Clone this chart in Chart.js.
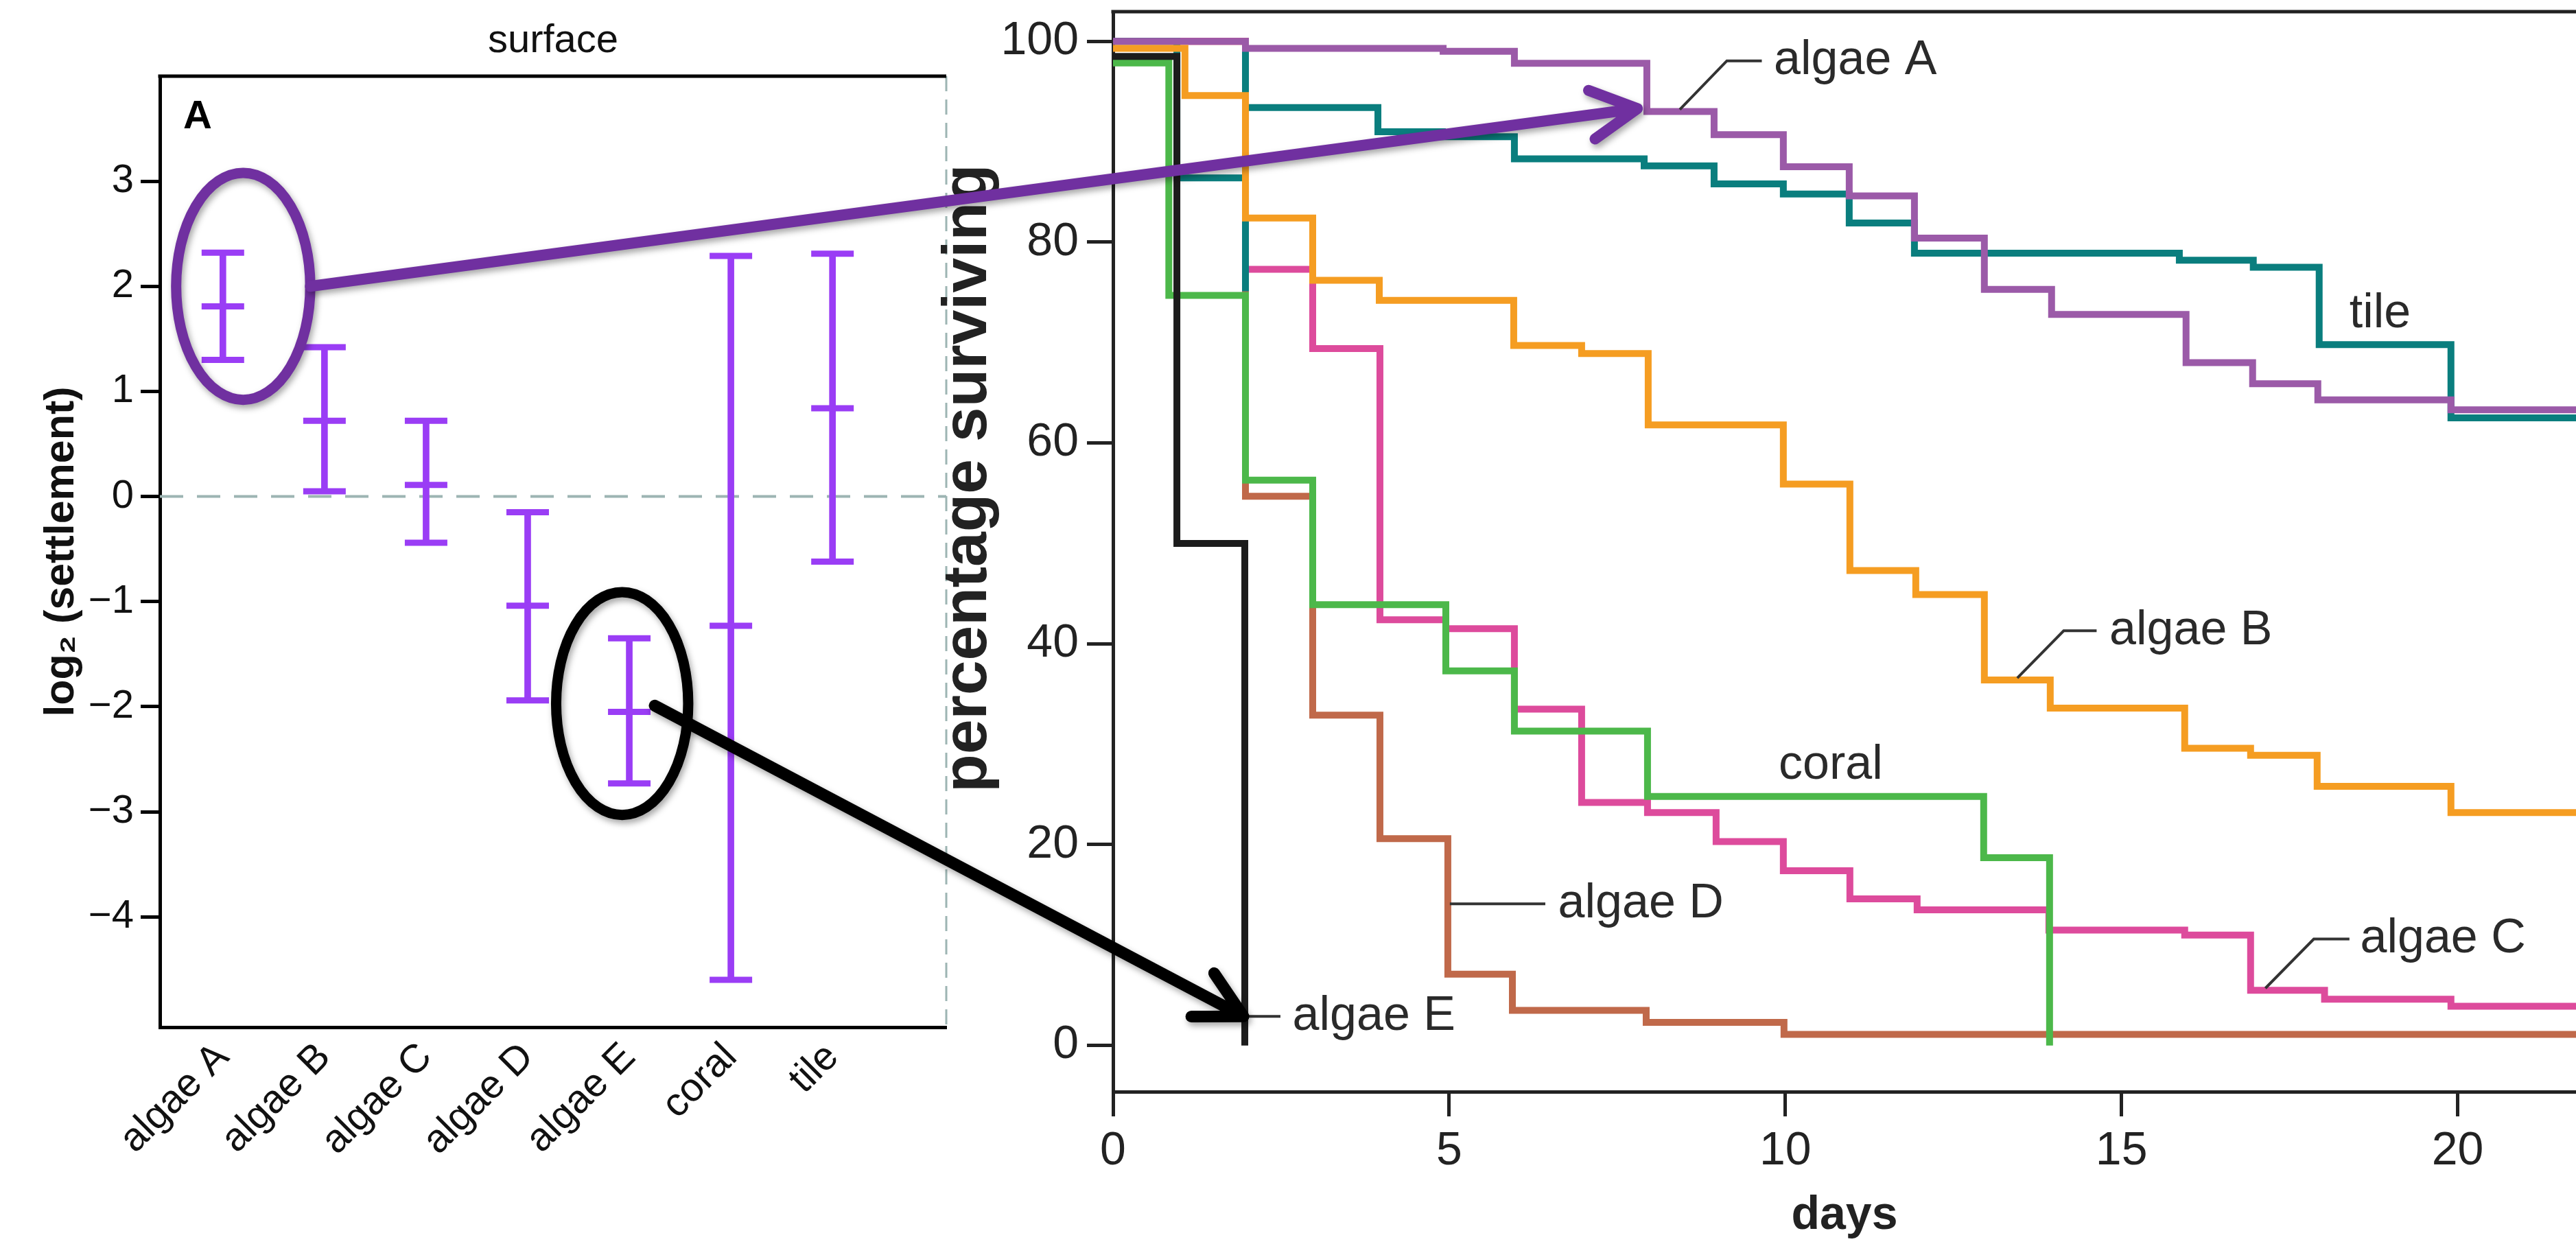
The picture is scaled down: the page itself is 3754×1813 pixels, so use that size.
<!DOCTYPE html>
<html>
<head>
<meta charset="utf-8">
<title>settlement vs survival</title>
<script src="https://cdn.jsdelivr.net/npm/chart.js@4.4.1/dist/chart.umd.min.js"></script>
<style>
    html, body { margin: 0; padding: 0; background: #fff; }
    #wrap { position: relative; width: 3754px; height: 1813px; overflow: hidden; }
    #leftChart  { position: absolute; left: 0; top: 0; }
    #rightChart { position: absolute; left: 1300px; top: 0; }
    #overlay    { position: absolute; left: 0; top: 0; pointer-events: none; }
</style>
</head>
<body>
<div id="wrap">
    <canvas id="leftChart" width="1419" height="1813"></canvas>
    <canvas id="rightChart" width="2454" height="1813"></canvas>
    <canvas id="overlay" width="3754" height="1813"></canvas>
</div>
<script>
// ── Panel A: log2 settlement, mean + interval per surface ─────────────────────
const CATEGORIES = ['algae A', 'algae B', 'algae C', 'algae D', 'algae E', 'coral', 'tile'];
const SETTLE_MEAN  = [1.81, 0.72, 0.11, -1.04, -2.05, -1.23, 0.84];
const SETTLE_LOWER = [1.30, 0.05, -0.44, -1.94, -2.73, -4.60, -0.62];
const SETTLE_UPPER = [2.32, 1.42, 0.72, -0.15, -1.35, 2.29, 2.31];
const SETTLE_TICKS = [-4, -3, -2, -1, 0, 1, 2, 3];

// ── Survival curves (day of step, % surviving after the step) ─────────────────
const DAYS_E  = [0, 0.95, 1.96];
const PCT_E   = [98.5, 50, 0];
const DAYS_CORAL = [0, 0.83, 1.97, 2.97, 4.95, 5.97, 7.95, 12.95, 13.93];
const PCT_CORAL  = [97.85, 74.7, 56.3, 43.9, 37.3, 31.3, 24.8, 18.7, 0];
const DAYS_B  = [0, 1.07, 1.97, 2.97, 3.96, 5.96, 6.97, 7.96, 9.97, 10.96, 11.94, 12.96, 13.94, 15.94, 16.92, 17.91, 19.9, 22];
const PCT_B   = [99.3, 94.6, 82.4, 76.2, 74.2, 69.7, 68.9, 61.8, 55.9, 47.3, 44.9, 36.4, 33.6, 29.6, 28.9, 25.8, 23.2, 23.2];
const DAYS_A  = [0, 1.97, 4.91, 5.97, 7.94, 8.94, 9.97, 10.95, 11.92, 12.96, 13.96, 15.96, 16.95, 17.92, 19.9, 22];
const PCT_A   = [100, 99.3, 99.0, 97.8, 93.0, 90.7, 87.5, 84.6, 80.4, 75.3, 72.8, 68.0, 65.9, 64.3, 63.3, 63.3];
const DAYS_TILE = [0, 0.95, 1.97, 1.97, 1.97, 3.94, 4.9, 5.97, 7.9, 8.94, 9.97, 10.95, 11.92, 15.86, 16.96, 17.94, 19.9, 22];
const PCT_TILE  = [100, 86.4, 75.1, 99.0, 93.4, 91.0, 90.5, 88.3, 87.6, 85.8, 84.8, 81.9, 78.9, 78.2, 77.5, 69.8, 62.5, 62.5];
const DAYS_C  = [0, 1.97, 2.97, 3.97, 4.95, 5.97, 6.97, 7.95, 8.97, 9.97, 10.96, 11.96, 13.92, 15.94, 16.92, 18.02, 19.9, 22];
const PCT_C   = [100, 77.3, 69.4, 42.4, 41.5, 33.5, 24.2, 23.2, 20.3, 17.4, 14.6, 13.5, 11.5, 11.0, 5.5, 4.6, 3.9, 3.9];
const DAYS_D  = [0, 1.97, 2.97, 3.97, 4.98, 5.94, 7.93, 9.98, 22];
const PCT_D   = [100, 54.7, 32.9, 20.6, 7.1, 3.5, 2.3, 1.1, 1.1];
const DAY_TICKS = [0, 5, 10, 15, 20];
const PCT_TICKS = [0, 20, 40, 60, 80, 100];

const FONT = "'Liberation Sans', Arial, Helvetica, sans-serif";
const BAR_PURPLE = '#9a3df5';
const NOTE_PURPLE = '#7030a0';
const DASH_GREY = '#9db5b3';
const LEFT_OFFSET = 0, RIGHT_OFFSET = 1300;

Chart.defaults.font.family = FONT;
Chart.defaults.color = '#111';

// Kaplan-Meier style: hold value until next step day.
function steps(days, pct) {
    return days.map((d, i) => ({ x: d, y: pct[i] }));
}

// ── Panel A decorations: title, dashed zero line, dashed right edge, top border, "A"
const leftDecor = {
    id: 'leftDecor',
    beforeDatasetsDraw(chart) {
        const { ctx, chartArea: a, scales: { y } } = chart;
        const y0 = y.getPixelForValue(0);
        ctx.save();
        ctx.strokeStyle = DASH_GREY;
        ctx.lineWidth = 4;
        ctx.setLineDash([34, 20]);
        ctx.beginPath(); ctx.moveTo(a.left, y0); ctx.lineTo(a.right, y0); ctx.stroke();
        ctx.setLineDash([22, 12]);
        ctx.lineWidth = 3;
        ctx.beginPath(); ctx.moveTo(a.right, a.top); ctx.lineTo(a.right, a.bottom); ctx.stroke();
        ctx.restore();
    },
    afterDraw(chart) {
        const { ctx, chartArea: a } = chart;
        ctx.save();
        ctx.strokeStyle = '#000';
        ctx.lineWidth = 5;
        ctx.beginPath(); ctx.moveTo(a.left - 2.5, a.top); ctx.lineTo(a.right, a.top); ctx.stroke();
        ctx.fillStyle = '#000';
        ctx.textAlign = 'center';
        ctx.textBaseline = 'middle';
        ctx.font = `bold 58px ${FONT}`;
        ctx.fillText('A', a.left + 55, a.top + 60);
        ctx.fillStyle = '#111';
        ctx.font = `58px ${FONT}`;
        ctx.fillText('surface', (a.left + a.right) / 2, 60);
        ctx.restore();
    },
};

const leftChart = new Chart(document.getElementById('leftChart'), {
    type: 'bar',
    data: {
        datasets: [
            {
                type: 'scatter', data: CATEGORIES.map((c, i) => ({ x: i, y: SETTLE_UPPER[i] })),
                pointStyle: 'line', pointRadius: 31, pointBorderWidth: 9, borderColor: BAR_PURPLE,
            },
            {
                type: 'scatter', data: CATEGORIES.map((c, i) => ({ x: i, y: SETTLE_LOWER[i] })),
                pointStyle: 'line', pointRadius: 31, pointBorderWidth: 9, borderColor: BAR_PURPLE,
            },
            {
                type: 'scatter', data: CATEGORIES.map((c, i) => ({ x: i, y: SETTLE_MEAN[i] })),
                pointStyle: 'line', pointRadius: 31, pointBorderWidth: 9, borderColor: BAR_PURPLE,
            },
            {
                type: 'bar', data: CATEGORIES.map((c, i) => ({ x: i, y: [SETTLE_LOWER[i], SETTLE_UPPER[i]] })),
                backgroundColor: BAR_PURPLE, borderWidth: 0, barThickness: 9,
            },
        ],
    },
    options: {
        responsive: false,
        animation: false,
        events: [],
        layout: { padding: { left: 0, right: 0, top: 111, bottom: 0 } },
        plugins: {
            legend: { display: false },
            tooltip: { enabled: false },
            title: { display: false },
        },
        scales: {
            x: {
                type: 'linear', min: -0.62, max: 7.12, offset: false,
                afterBuildTicks: (s) => { s.ticks = CATEGORIES.map((c, i) => ({ value: i })); },
                afterFit: (s) => { s.height = 316; s.paddingLeft = 0; s.paddingRight = 0; },
                grid: { display: true, drawOnChartArea: false, drawTicks: false, color: 'rgba(0,0,0,0)', offset: false },
                border: { display: true, color: '#000', width: 5 },
                ticks: {
                    autoSkip: false, minRotation: 45, maxRotation: 45, padding: 10, color: '#111',
                    font: { size: 58 },
                    callback: (v) => CATEGORIES[v] ?? '',
                },
            },
            y: {
                min: -5.05, max: 4.0,
                afterBuildTicks: (s) => { s.ticks = SETTLE_TICKS.map(v => ({ value: v })); },
                afterFit: (s) => { s.width = 233; s.paddingTop = 0; s.paddingBottom = 0; },
                grid: { display: true, drawOnChartArea: false, drawTicks: true, tickLength: 28, tickWidth: 5, tickColor: '#000' },
                border: { display: true, color: '#000', width: 5 },
                ticks: {
                    padding: 10, color: '#111', font: { size: 58 },
                    callback: (v) => String(v).replace('-', '\u2212'),
                },
                title: {
                    display: true, text: 'log\u2082 (settlement)', color: '#111',
                    font: { size: 61, weight: 'bold' }, padding: { top: 54, bottom: 0 },
                },
            },
        },
    },
    plugins: [leftDecor],
});

// ── Survival panel: in-plot curve labels with leader lines ───────────────────
const CURVE_NOTES = [
    { text: 'algae A', leader: [[8.43, 93.2], [9.13, 98.05], [9.65, 98.05]], at: [9.83, 98.05] },
    { text: 'tile',    leader: null, at: [18.39, 72.85] },
    { text: 'algae B', leader: [[13.45, 36.6], [14.14, 41.3], [14.63, 41.3]], at: [14.82, 41.3] },
    { text: 'coral',   leader: null, at: [9.9, 27.9] },
    { text: 'algae C', leader: [[17.14, 5.7], [17.86, 10.6], [18.39, 10.6]], at: [18.55, 10.6] },
    { text: 'algae D', leader: [[5.01, 14.1], [6.43, 14.1]], at: [6.62, 14.1] },
    { text: 'algae E', leader: [[1.98, 2.9], [2.49, 2.9]], at: [2.67, 2.9] },
];

const rightDecor = {
    id: 'rightDecor',
    afterDatasetsDraw(chart) {
        const { ctx, chartArea: a, scales: { x, y } } = chart;
        ctx.save();
        ctx.strokeStyle = '#222';
        ctx.lineWidth = 5;
        ctx.beginPath(); ctx.moveTo(a.left - 2.5, a.top); ctx.lineTo(a.right, a.top); ctx.stroke();

        ctx.strokeStyle = '#333';
        ctx.lineWidth = 4;
        ctx.fillStyle = '#2a2a2a';
        ctx.font = `70px ${FONT}`;
        ctx.textAlign = 'left';
        ctx.textBaseline = 'middle';
        CURVE_NOTES.forEach(n => {
            if (n.leader) {
                ctx.beginPath();
                n.leader.forEach(([d, p], i) => {
                    const px = x.getPixelForValue(d), py = y.getPixelForValue(p);
                    if (i === 0) ctx.moveTo(px, py); else ctx.lineTo(px, py);
                });
                ctx.stroke();
            }
            ctx.fillText(n.text, x.getPixelForValue(n.at[0]), y.getPixelForValue(n.at[1]));
        });

        // axis title sits above the axis centre in the original
        ctx.fillStyle = '#222';
        ctx.font = `bold 91px ${FONT}`;
        ctx.textAlign = 'center';
        ctx.translate(112, 697);
        ctx.rotate(-Math.PI / 2);
        ctx.fillText('percentage surviving', 0, 0);
        ctx.restore();
    },
};

const mkCurve = (label, days, pct, color) => ({
    label, data: steps(days, pct), borderColor: color, borderWidth: 10,
    stepped: true, pointRadius: 0, fill: false, tension: 0,
    borderCapStyle: 'butt', borderJoinStyle: 'miter',
});

const rightChart = new Chart(document.getElementById('rightChart'), {
    type: 'line',
    data: {
        // index 0 is painted last (on top)
        datasets: [
            mkCurve('algae E', DAYS_E, PCT_E, '#1c1c1c'),
            mkCurve('coral', DAYS_CORAL, PCT_CORAL, '#4cb84a'),
            mkCurve('algae B', DAYS_B, PCT_B, '#f59d22'),
            mkCurve('algae A', DAYS_A, PCT_A, '#9b5aa8'),
            mkCurve('tile', DAYS_TILE, PCT_TILE, '#0a7e7e'),
            mkCurve('algae C', DAYS_C, PCT_C, '#dd4b9c'),
            mkCurve('algae D', DAYS_D, PCT_D, '#c0694a'),
        ],
    },
    options: {
        responsive: false,
        animation: false,
        events: [],
        layout: { padding: { left: 0, right: 0, top: 17, bottom: 0 } },
        plugins: { legend: { display: false }, tooltip: { enabled: false } },
        scales: {
            x: {
                type: 'linear', min: 0, max: 21.76,
                afterBuildTicks: (s) => { s.ticks = DAY_TICKS.map(v => ({ value: v })); },
                afterFit: (s) => { s.height = 222; s.paddingLeft = 0; s.paddingRight = 0; },
                grid: { drawOnChartArea: false, tickLength: 36, tickWidth: 5, tickColor: '#222' },
                border: { color: '#222', width: 5 },
                ticks: { padding: 10, color: '#222', font: { size: 68 } },
                title: {
                    display: true, text: 'days', color: '#222',
                    font: { size: 68, weight: 'bold' }, padding: { top: 0, bottom: 0 },
                },
            },
            y: {
                type: 'linear', min: -4.6, max: 102.95,
                afterBuildTicks: (s) => { s.ticks = PCT_TICKS.map(v => ({ value: v })); },
                afterFit: (s) => { s.width = 322; s.paddingTop = 0; s.paddingBottom = 0; },
                grid: { drawOnChartArea: false, tickLength: 38, tickWidth: 5, tickColor: '#222' },
                border: { color: '#222', width: 5 },
                ticks: { padding: 12, color: '#222', font: { size: 68 } },
                title: { display: false, text: 'percentage surviving' },
            },
        },
    },
    plugins: [rightDecor],
});

// ── Hand-drawn call-outs: ellipses + arrows linking both panels ──────────────
function drawOverlay() {
    const ctx = document.getElementById('overlay').getContext('2d');
    const lx = v => LEFT_OFFSET + leftChart.scales.x.getPixelForValue(v);
    const ly = v => leftChart.scales.y.getPixelForValue(v);
    const rx = v => RIGHT_OFFSET + rightChart.scales.x.getPixelForValue(v);
    const ry = v => rightChart.scales.y.getPixelForValue(v);

    const shadow = () => {
        ctx.shadowColor = 'rgba(0,0,0,0.35)';
        ctx.shadowBlur = 10;
        ctx.shadowOffsetX = 3;
        ctx.shadowOffsetY = 5;
    };

    function ellipse(cat, val, halfW, halfH, color) {
        const cx = lx(cat), cy = ly(val);
        const w = lx(cat + halfW) - cx, h = ly(val - halfH) - cy;
        ctx.save();
        shadow();
        ctx.strokeStyle = color;
        ctx.lineWidth = 15;
        ctx.beginPath();
        ctx.ellipse(cx, cy, w, h, 0, 0, Math.PI * 2);
        ctx.stroke();
        ctx.restore();
        return { cx, cy, w, h };
    }

    function arrow(x0, y0, x1, y1, color, width) {
        const ang = Math.atan2(y1 - y0, x1 - x0);
        const arm = 76, spread = 28 * Math.PI / 180;
        ctx.save();
        shadow();
        ctx.strokeStyle = color;
        ctx.lineWidth = width;
        ctx.lineCap = 'round';
        ctx.lineJoin = 'round';
        ctx.beginPath();
        ctx.moveTo(x0, y0);
        ctx.lineTo(x1, y1);
        ctx.moveTo(x1 - arm * Math.cos(ang - spread), y1 - arm * Math.sin(ang - spread));
        ctx.lineTo(x1, y1);
        ctx.lineTo(x1 - arm * Math.cos(ang + spread), y1 - arm * Math.sin(ang + spread));
        ctx.stroke();
        ctx.restore();
    }

    const eA = ellipse(0.2, 2.0, 0.66, 1.08, NOTE_PURPLE);
    arrow(eA.cx + eA.w, eA.cy, rx(7.8), ry(93.3), NOTE_PURPLE, 16);

    const eE = ellipse(3.93, -1.97, 0.65, 1.06, '#000');
    arrow(lx(4.25), ly(-1.99), rx(1.94), ry(2.9), '#000', 17);
}

drawOverlay();
</script>
</body>
</html>
